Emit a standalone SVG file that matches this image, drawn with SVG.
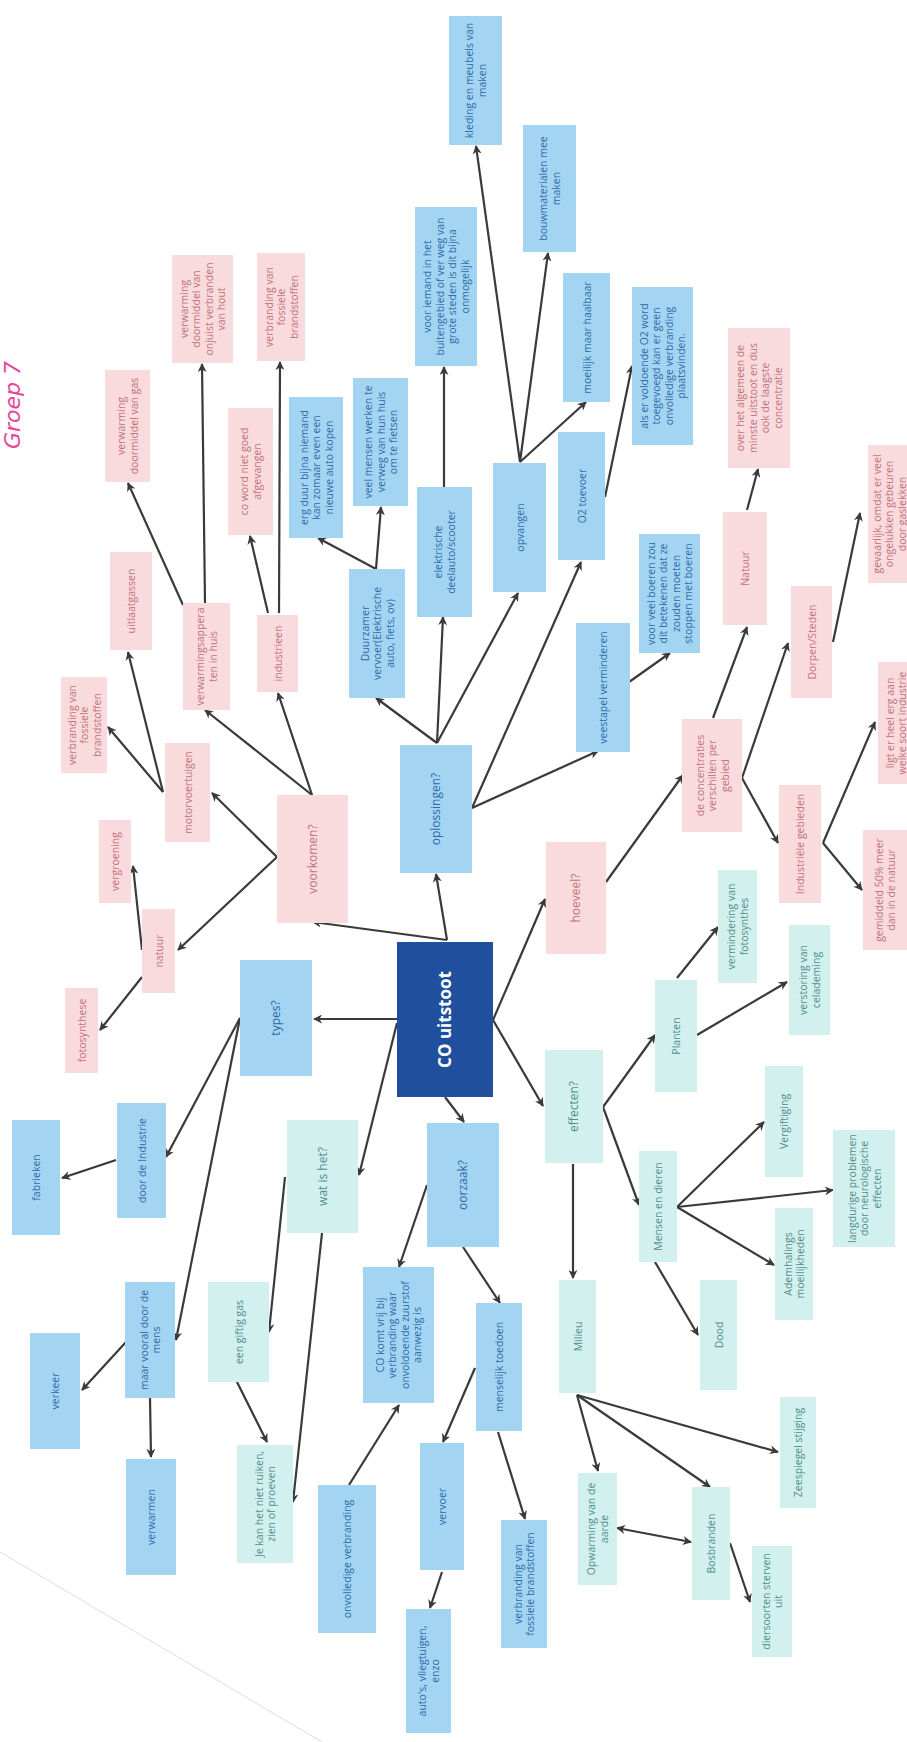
<svg xmlns="http://www.w3.org/2000/svg" width="907" height="1742" viewBox="0 0 907 1742">
  <style>
    text { font-family: "Open Sans", "Liberation Sans", sans-serif; font-size: 10.5px; text-anchor: middle; }
    .pk rect { fill: #f9dadd; }
    .pk text { fill: #c2727c; }
    .bl rect { fill: #a3d5f3; }
    .bl text { fill: #2f6aa8; }
    .mt rect { fill: #d2f0ed; }
    .mt text { fill: #4f8f8d; }
    .big text { font-size: 12px; }
    .core rect { fill: #1f4f9d; }
    .core text { fill: #ffffff; font-size: 17px; font-weight: bold; }
    .edges line { stroke: #3a3a3a; stroke-width: 2.2; fill: none; marker-end: url(#head); }
    .edges line.both { marker-start: url(#head); }
    .hand { font-family: "DejaVu Sans", sans-serif; font-style: italic; font-size: 22px; fill: #e8449c; }
  </style>
  <defs>
    <marker id="head" viewBox="0 0 10 10" refX="9" refY="5" markerWidth="9" markerHeight="9" markerUnits="userSpaceOnUse" orient="auto-start-reverse">
      <path d="M0,0 L10,5 L0,10 L3,5 z" fill="#3a3a3a"/>
    </marker>
  </defs>

  <rect width="907" height="1742" fill="#ffffff"/>
  <!-- paper edge -->
  <line x1="0" y1="1552" x2="322" y2="1742" stroke="#dcdcdc" stroke-width="1"/>

  <text class="hand" transform="translate(20,405) rotate(-90)">Groep 7</text>

  <!-- connectors -->
  <g class="edges">
    <line x1="447" y1="940" x2="436" y2="874"/>
    <line x1="447" y1="940" x2="313" y2="922"/>
    <line x1="398" y1="1019" x2="314" y2="1019"/>
    <line x1="397" y1="1023" x2="359" y2="1175"/>
    <line x1="445" y1="1097" x2="464" y2="1122"/>
    <line x1="493" y1="1020" x2="545" y2="899"/>
    <line x1="493" y1="1020" x2="543" y2="1106"/>
    <line x1="277" y1="857" x2="178" y2="950"/>
    <line x1="277" y1="857" x2="212" y2="793"/>
    <line x1="312" y1="795" x2="205" y2="710"/>
    <line x1="312" y1="795" x2="278" y2="693"/>
    <line x1="163" y1="792" x2="128" y2="652"/>
    <line x1="163" y1="792" x2="108" y2="727"/>
    <line x1="183" y1="605" x2="128" y2="483"/>
    <line x1="205" y1="603" x2="202" y2="364"/>
    <line x1="268" y1="613" x2="250" y2="536"/>
    <line x1="279" y1="613" x2="280" y2="362"/>
    <line x1="142" y1="950" x2="133" y2="866"/>
    <line x1="142" y1="977" x2="100" y2="1030"/>
    <line x1="240" y1="1018" x2="166" y2="1157"/>
    <line x1="240" y1="1018" x2="176" y2="1340"/>
    <line x1="116" y1="1160" x2="62" y2="1178"/>
    <line x1="126" y1="1342" x2="82" y2="1390"/>
    <line x1="150" y1="1398" x2="151" y2="1457"/>
    <line x1="285" y1="1177" x2="269" y2="1332"/>
    <line x1="322" y1="1233" x2="293" y2="1502"/>
    <line x1="237" y1="1382" x2="267" y2="1442"/>
    <line x1="427" y1="1185" x2="399" y2="1267"/>
    <line x1="463" y1="1247" x2="500" y2="1303"/>
    <line x1="349" y1="1485" x2="399" y2="1405"/>
    <line x1="475" y1="1368" x2="443" y2="1442"/>
    <line x1="498" y1="1432" x2="525" y2="1519"/>
    <line x1="442" y1="1572" x2="430" y2="1608"/>
    <line x1="437" y1="743" x2="376" y2="698"/>
    <line x1="437" y1="743" x2="443" y2="617"/>
    <line x1="437" y1="743" x2="518" y2="593"/>
    <line x1="472" y1="808" x2="581" y2="562"/>
    <line x1="472" y1="808" x2="598" y2="751"/>
    <line x1="376" y1="569" x2="318" y2="538"/>
    <line x1="376" y1="569" x2="381" y2="507"/>
    <line x1="444" y1="487" x2="444" y2="367"/>
    <line x1="520" y1="462" x2="476" y2="146"/>
    <line x1="520" y1="462" x2="548" y2="253"/>
    <line x1="520" y1="462" x2="586" y2="402"/>
    <line x1="605" y1="497" x2="632" y2="366"/>
    <line x1="622" y1="687" x2="670" y2="653"/>
    <line x1="606" y1="882" x2="683" y2="775"/>
    <line x1="713" y1="718" x2="747" y2="627"/>
    <line x1="747" y1="510" x2="758" y2="469"/>
    <line x1="742" y1="778" x2="788" y2="643"/>
    <line x1="742" y1="778" x2="778" y2="843"/>
    <line x1="833" y1="642" x2="860" y2="513"/>
    <line x1="823" y1="843" x2="875" y2="722"/>
    <line x1="823" y1="843" x2="862" y2="890"/>
    <line x1="573" y1="1164" x2="573" y2="1278"/>
    <line x1="603" y1="1107" x2="655" y2="1035"/>
    <line x1="603" y1="1107" x2="639" y2="1205"/>
    <line x1="677" y1="978" x2="718" y2="927"/>
    <line x1="697" y1="1035" x2="787" y2="982"/>
    <line x1="677" y1="1207" x2="764" y2="1122"/>
    <line x1="677" y1="1207" x2="833" y2="1190"/>
    <line x1="677" y1="1207" x2="774" y2="1265"/>
    <line x1="655" y1="1262" x2="698" y2="1335"/>
    <line x1="577" y1="1395" x2="598" y2="1471"/>
    <line x1="577" y1="1395" x2="710" y2="1487"/>
    <line x1="577" y1="1395" x2="778" y2="1452"/>
    <line class="both" x1="617" y1="1528" x2="691" y2="1542"/>
    <line x1="730" y1="1543" x2="750" y2="1602"/>
  </g>

  <!-- central node -->
  <g id="co-uitstoot" class="core">
    <rect x="397" y="942" width="96" height="155"/>
    <text transform="translate(445,1019.5) rotate(-90)" y="6">CO uitstoot</text>
  </g>

  <!-- voorkomen branch -->
  <g id="voorkomen" class="pk big"><rect x="277" y="795" width="71" height="128"/>
    <text transform="translate(312.5,859) rotate(-90)" y="4">voorkomen?</text></g>
  <g id="natuur" class="pk"><rect x="142" y="909" width="33" height="84"/>
    <text transform="translate(158.5,951) rotate(-90)" y="4">natuur</text></g>
  <g id="vergroening" class="pk"><rect x="99" y="820" width="32" height="83"/>
    <text transform="translate(115,861.5) rotate(-90)" y="4">vergroening</text></g>
  <g id="fotosynthese" class="pk"><rect x="65" y="988" width="33" height="85"/>
    <text transform="translate(81.5,1030.5) rotate(-90)" y="4">fotosynthese</text></g>
  <g id="motorvoertuigen" class="pk"><rect x="165" y="743" width="45" height="99"/>
    <text transform="translate(187.5,792.5) rotate(-90)" y="4">motorvoertuigen</text></g>
  <g id="uitlaatgassen" class="pk"><rect x="110" y="552" width="42" height="98"/>
    <text transform="translate(131,601) rotate(-90)" y="4">uitlaatgassen</text></g>
  <g id="fossiel-motor" class="pk"><rect x="61" y="677" width="46" height="96"/>
    <text transform="translate(84,725) rotate(-90)"><tspan x="0" y="-8.5">verbranding van</tspan><tspan x="0" y="4">fossiele</tspan><tspan x="0" y="16.5">brandstoffen</tspan></text></g>
  <g id="verwarmingsapparaten" class="pk"><rect x="183" y="603" width="47" height="107"/>
    <text transform="translate(206.5,656.5) rotate(-90)"><tspan x="0" y="-2.25">verwarmingsappera</tspan><tspan x="0" y="10.25">ten in huis</tspan></text></g>
  <g id="verwarming-gas" class="pk"><rect x="105" y="370" width="45" height="112"/>
    <text transform="translate(127.5,426) rotate(-90)"><tspan x="0" y="-2.25">verwarming</tspan><tspan x="0" y="10.25">doormiddel van gas</tspan></text></g>
  <g id="verwarming-hout" class="pk"><rect x="172" y="255" width="61" height="108"/>
    <text transform="translate(202.5,309) rotate(-90)"><tspan x="0" y="-14.75">verwarming</tspan><tspan x="0" y="-2.25">doormiddel van</tspan><tspan x="0" y="10.25">onjuist verbranden</tspan><tspan x="0" y="22.75">van hout</tspan></text></g>
  <g id="industrieen" class="pk"><rect x="257" y="615" width="41" height="77"/>
    <text transform="translate(277.5,653.5) rotate(-90)" y="4">industrieen</text></g>
  <g id="co-afgevangen" class="pk"><rect x="228" y="408" width="45" height="127"/>
    <text transform="translate(250.5,471.5) rotate(-90)"><tspan x="0" y="-2.25">co word niet goed</tspan><tspan x="0" y="10.25">afgevangen</tspan></text></g>
  <g id="fossiel-industrie" class="pk"><rect x="257" y="253" width="48" height="108"/>
    <text transform="translate(281,307) rotate(-90)"><tspan x="0" y="-8.5">verbranding van</tspan><tspan x="0" y="4">fossiele</tspan><tspan x="0" y="16.5">brandstoffen</tspan></text></g>

  <!-- oplossingen branch -->
  <g id="oplossingen" class="bl big"><rect x="400" y="745" width="72" height="128"/>
    <text transform="translate(436,809) rotate(-90)" y="4">oplossingen?</text></g>
  <g id="duurzamer-vervoer" class="bl"><rect x="349" y="569" width="56" height="129"/>
    <text transform="translate(377,633.5) rotate(-90)"><tspan x="0" y="-8.5">Duurzamer</tspan><tspan x="0" y="4">vervoer(Elektrische</tspan><tspan x="0" y="16.5">auto, fiets, ov)</tspan></text></g>
  <g id="erg-duur" class="bl"><rect x="289" y="397" width="54" height="141"/>
    <text transform="translate(316,467.5) rotate(-90)"><tspan x="0" y="-8.5">erg duur bijna niemand</tspan><tspan x="0" y="4">kan zomaar even een</tspan><tspan x="0" y="16.5">nieuwe auto kopen</tspan></text></g>
  <g id="ver-weg" class="bl"><rect x="353" y="378" width="55" height="128"/>
    <text transform="translate(380.5,442) rotate(-90)"><tspan x="0" y="-8.5">veel mensen werken te</tspan><tspan x="0" y="4">verweg van hun huis</tspan><tspan x="0" y="16.5">om te fietsen</tspan></text></g>
  <g id="deelauto" class="bl"><rect x="417" y="487" width="55" height="130"/>
    <text transform="translate(444.5,552) rotate(-90)"><tspan x="0" y="-2.25">elektrische</tspan><tspan x="0" y="10.25">deelauto/scooter</tspan></text></g>
  <g id="buitengebied" class="bl"><rect x="415" y="207" width="62" height="159"/>
    <text transform="translate(446,286.5) rotate(-90)"><tspan x="0" y="-14.75">voor iemand in het</tspan><tspan x="0" y="-2.25">buitengebied of ver weg van</tspan><tspan x="0" y="10.25">grote steden is dit bijna</tspan><tspan x="0" y="22.75">onmogelijk</tspan></text></g>
  <g id="opvangen" class="bl"><rect x="493" y="463" width="53" height="129"/>
    <text transform="translate(519.5,527.5) rotate(-90)" y="4">opvangen</text></g>
  <g id="kleding" class="bl"><rect x="449" y="16" width="53" height="129"/>
    <text transform="translate(475.5,80.5) rotate(-90)"><tspan x="0" y="-2.25">kleding en meubels van</tspan><tspan x="0" y="10.25">maken</tspan></text></g>
  <g id="bouwmaterialen" class="bl"><rect x="523" y="125" width="53" height="127"/>
    <text transform="translate(549.5,188.5) rotate(-90)"><tspan x="0" y="-2.25">bouwmaterialen mee</tspan><tspan x="0" y="10.25">maken</tspan></text></g>
  <g id="haalbaar" class="bl"><rect x="563" y="273" width="47" height="129"/>
    <text transform="translate(586.5,337.5) rotate(-90)" y="4">moeilijk maar haalbaar</text></g>
  <g id="o2-toevoer" class="bl"><rect x="558" y="432" width="47" height="128"/>
    <text transform="translate(581.5,496) rotate(-90)" y="4">O2 toevoer</text></g>
  <g id="voldoende-o2" class="bl"><rect x="632" y="287" width="61" height="158"/>
    <text transform="translate(662.5,366) rotate(-90)"><tspan x="0" y="-14.75">als er voldoende O2 word</tspan><tspan x="0" y="-2.25">toegevoegd kan er geen</tspan><tspan x="0" y="10.25">onvolledige verbranding</tspan><tspan x="0" y="22.75">plaatsvinden.</tspan></text></g>
  <g id="veestapel" class="bl"><rect x="576" y="623" width="54" height="129"/>
    <text transform="translate(603,687.5) rotate(-90)" y="4">veestapel verminderen</text></g>
  <g id="boeren" class="bl"><rect x="639" y="534" width="61" height="119"/>
    <text transform="translate(669.5,593.5) rotate(-90)"><tspan x="0" y="-14.75">voor veel boeren zou</tspan><tspan x="0" y="-2.25">dit betekenen dat ze</tspan><tspan x="0" y="10.25">zouden moeten</tspan><tspan x="0" y="22.75">stoppen met boeren</tspan></text></g>

  <!-- hoeveel branch -->
  <g id="hoeveel" class="pk big"><rect x="546" y="842" width="60" height="112"/>
    <text transform="translate(576,898) rotate(-90)" y="4">hoeveel?</text></g>
  <g id="concentraties" class="pk"><rect x="682" y="719" width="60" height="113"/>
    <text transform="translate(712,775.5) rotate(-90)"><tspan x="0" y="-8.5">de concentraties</tspan><tspan x="0" y="4">verschillen per</tspan><tspan x="0" y="16.5">gebied</tspan></text></g>
  <g id="natuur-gebied" class="pk"><rect x="723" y="512" width="44" height="113"/>
    <text transform="translate(745,568.5) rotate(-90)" y="4">Natuur</text></g>
  <g id="minste-uitstoot" class="pk"><rect x="728" y="328" width="62" height="140"/>
    <text transform="translate(759,398) rotate(-90)"><tspan x="0" y="-14.75">over het algemeen de</tspan><tspan x="0" y="-2.25">minste uitstoot en dus</tspan><tspan x="0" y="10.25">ook de laagste</tspan><tspan x="0" y="22.75">concentratie</tspan></text></g>
  <g id="dorpen-steden" class="pk"><rect x="791" y="586" width="41" height="112"/>
    <text transform="translate(811.5,642) rotate(-90)" y="4">Dorpen/Steden</text></g>
  <g id="gaslekken" class="pk"><rect x="868" y="445" width="42" height="138"/>
    <text transform="translate(889,514) rotate(-90)"><tspan x="0" y="-8.5">gevaarlijk, omdat er veel</tspan><tspan x="0" y="4">ongelukken gebeuren</tspan><tspan x="0" y="16.5">door gaslekken</tspan></text></g>
  <g id="industriele-gebieden" class="pk"><rect x="779" y="785" width="42" height="118"/>
    <text transform="translate(800,844) rotate(-90)" y="4">Industriële gebieden</text></g>
  <g id="soort-industrie" class="pk"><rect x="878" y="662" width="40" height="122"/>
    <text transform="translate(896,723) rotate(-90)"><tspan x="0" y="-2.25">ligt er heel erg aan</tspan><tspan x="0" y="10.25">welke soort industrie</tspan></text></g>
  <g id="gemiddeld" class="pk"><rect x="863" y="830" width="44" height="120"/>
    <text transform="translate(885,890) rotate(-90)"><tspan x="0" y="-2.25">gemiddeld 50% meer</tspan><tspan x="0" y="10.25">dan in de natuur</tspan></text></g>

  <!-- types branch -->
  <g id="types" class="bl big"><rect x="240" y="960" width="72" height="116"/>
    <text transform="translate(276,1018) rotate(-90)" y="4">types?</text></g>
  <g id="door-industrie" class="bl"><rect x="117" y="1103" width="49" height="115"/>
    <text transform="translate(141.5,1160.5) rotate(-90)" y="4">door de Industrie</text></g>
  <g id="fabrieken" class="bl"><rect x="12" y="1120" width="48" height="115"/>
    <text transform="translate(36,1177.5) rotate(-90)" y="4">fabrieken</text></g>
  <g id="door-mens" class="bl"><rect x="125" y="1282" width="50" height="116"/>
    <text transform="translate(150,1340) rotate(-90)"><tspan x="0" y="-2.25">maar vooral door de</tspan><tspan x="0" y="10.25">mens</tspan></text></g>
  <g id="verkeer" class="bl"><rect x="30" y="1333" width="50" height="116"/>
    <text transform="translate(55,1391) rotate(-90)" y="4">verkeer</text></g>
  <g id="verwarmen" class="bl"><rect x="126" y="1459" width="50" height="116"/>
    <text transform="translate(151,1517) rotate(-90)" y="4">verwarmen</text></g>

  <!-- wat is het branch -->
  <g id="wat-is-het" class="mt big"><rect x="287" y="1120" width="71" height="113"/>
    <text transform="translate(322.5,1176.5) rotate(-90)" y="4">wat is het?</text></g>
  <g id="giftig-gas" class="mt"><rect x="208" y="1282" width="61" height="100"/>
    <text transform="translate(238.5,1332) rotate(-90)" y="4">een giftig gas</text></g>
  <g id="niet-ruiken" class="mt"><rect x="237" y="1445" width="56" height="118"/>
    <text transform="translate(265,1504) rotate(-90)"><tspan x="0" y="-2.25">Je kan het niet ruiken,</tspan><tspan x="0" y="10.25">zien of proeven</tspan></text></g>

  <!-- oorzaak branch -->
  <g id="oorzaak" class="bl big"><rect x="427" y="1123" width="72" height="124"/>
    <text transform="translate(463,1185) rotate(-90)" y="4">oorzaak?</text></g>
  <g id="co-komt-vrij" class="bl"><rect x="363" y="1267" width="71" height="136"/>
    <text transform="translate(398.5,1335) rotate(-90)"><tspan x="0" y="-14.75">CO komt vrij bij</tspan><tspan x="0" y="-2.25">verbranding waar</tspan><tspan x="0" y="10.25">onvoldoende zuurstof</tspan><tspan x="0" y="22.75">aanwezig is</tspan></text></g>
  <g id="onvolledige" class="bl"><rect x="318" y="1485" width="58" height="148"/>
    <text transform="translate(347,1559) rotate(-90)" y="4">onvolledige verbranding</text></g>
  <g id="menselijk" class="bl"><rect x="476" y="1303" width="46" height="128"/>
    <text transform="translate(499,1367) rotate(-90)" y="4">menselijk toedoen</text></g>
  <g id="vervoer" class="bl"><rect x="420" y="1443" width="44" height="127"/>
    <text transform="translate(442,1506.5) rotate(-90)" y="4">vervoer</text></g>
  <g id="autos" class="bl"><rect x="406" y="1609" width="45" height="124"/>
    <text transform="translate(428.5,1671) rotate(-90)"><tspan x="0" y="-2.25">auto's, vliegtuigen,</tspan><tspan x="0" y="10.25">enzo</tspan></text></g>
  <g id="fossiel-mens" class="bl"><rect x="501" y="1520" width="46" height="128"/>
    <text transform="translate(524,1584) rotate(-90)"><tspan x="0" y="-2.25">verbranding van</tspan><tspan x="0" y="10.25">fossiele brandstoffen</tspan></text></g>

  <!-- effecten branch -->
  <g id="effecten" class="mt big"><rect x="545" y="1050" width="58" height="113"/>
    <text transform="translate(574,1106.5) rotate(-90)" y="4">effecten?</text></g>
  <g id="planten" class="mt"><rect x="655" y="980" width="42" height="112"/>
    <text transform="translate(676,1036) rotate(-90)" y="4">Planten</text></g>
  <g id="vermindering" class="mt"><rect x="718" y="870" width="39" height="113"/>
    <text transform="translate(737.5,926.5) rotate(-90)"><tspan x="0" y="-2.25">vermindering van</tspan><tspan x="0" y="10.25">fotosynthes</tspan></text></g>
  <g id="verstoring" class="mt"><rect x="789" y="925" width="41" height="110"/>
    <text transform="translate(809.5,980) rotate(-90)"><tspan x="0" y="-2.25">verstoring van</tspan><tspan x="0" y="10.25">celademing</tspan></text></g>
  <g id="mensen-dieren" class="mt"><rect x="639" y="1151" width="38" height="111"/>
    <text transform="translate(658,1206.5) rotate(-90)" y="4">Mensen en dieren</text></g>
  <g id="vergiftiging" class="mt"><rect x="765" y="1066" width="38" height="111"/>
    <text transform="translate(784,1121.5) rotate(-90)" y="4">Vergiftiging</text></g>
  <g id="langdurig" class="mt"><rect x="833" y="1130" width="62" height="117"/>
    <text transform="translate(864,1188.5) rotate(-90)"><tspan x="0" y="-8.5">langdurige problemen</tspan><tspan x="0" y="4">door neurologische</tspan><tspan x="0" y="16.5">effecten</tspan></text></g>
  <g id="ademhaling" class="mt"><rect x="775" y="1208" width="38" height="112"/>
    <text transform="translate(794,1264) rotate(-90)"><tspan x="0" y="-2.25">Ademhalings</tspan><tspan x="0" y="10.25">moeilijkheden</tspan></text></g>
  <g id="dood" class="mt"><rect x="700" y="1280" width="37" height="110"/>
    <text transform="translate(718.5,1335) rotate(-90)" y="4">Dood</text></g>
  <g id="milieu" class="mt"><rect x="559" y="1280" width="37" height="113"/>
    <text transform="translate(577.5,1336.5) rotate(-90)" y="4">Milieu</text></g>
  <g id="opwarming" class="mt"><rect x="578" y="1473" width="39" height="112"/>
    <text transform="translate(597.5,1529) rotate(-90)"><tspan x="0" y="-2.25">Opwarming van de</tspan><tspan x="0" y="10.25">aarde</tspan></text></g>
  <g id="bosbranden" class="mt"><rect x="692" y="1487" width="38" height="113"/>
    <text transform="translate(711,1543.5) rotate(-90)" y="4">Bosbranden</text></g>
  <g id="zeespiegel" class="mt"><rect x="780" y="1397" width="36" height="111"/>
    <text transform="translate(798,1452.5) rotate(-90)" y="4">Zeespiegel stijging</text></g>
  <g id="diersoorten" class="mt"><rect x="752" y="1546" width="40" height="111"/>
    <text transform="translate(772,1601.5) rotate(-90)"><tspan x="0" y="-2.25">diersoorten sterven</tspan><tspan x="0" y="10.25">uit</tspan></text></g>
</svg>
